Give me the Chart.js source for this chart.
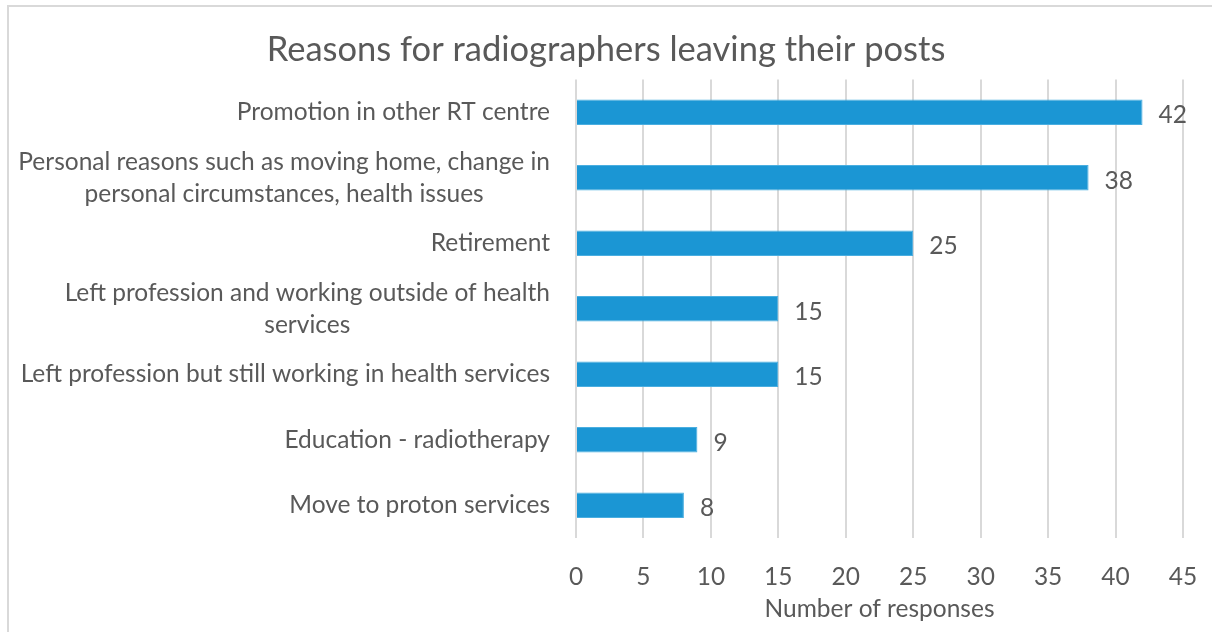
<!DOCTYPE html>
<html>
<head>
<meta charset="utf-8">
<script src="https://cdn.jsdelivr.net/npm/chart.js@4/dist/chart.umd.min.js"></script>
<style>
  html, body { margin: 0; padding: 0; background: #ffffff; }
  #wrap { width: 1212px; height: 632px; position: relative; }
</style>
</head>
<body>
<div id="wrap"><canvas id="c" width="1212" height="632"></canvas></div>
<script>
const categories = [
  "Promotion in other RT centre",
  ["Personal reasons such as moving home, change in", "personal circumstances, health issues"],
  "Retirement",
  ["Left profession and working outside of health", "services"],
  "Left profession but still working in health services",
  "Education - radiotherapy",
  "Move to proton services"
];
const responses = [42, 38, 25, 15, 15, 9, 8];
const xTicks = [0, 5, 10, 15, 20, 25, 30, 35, 40, 45];

const TEXT = '#595959';
const FONT = 'Lato';
const LABEL_SIZE = 24.5;

const framePlugin = {
  id: 'frame',
  beforeDraw(chart) {
    const ctx = chart.ctx;
    ctx.save();
    ctx.fillStyle = '#ffffff';
    ctx.fillRect(0, 0, chart.width, chart.height);
    ctx.strokeStyle = '#d9d9d9';
    ctx.lineWidth = 2;
    ctx.beginPath();
    ctx.moveTo(8, chart.height);
    ctx.lineTo(8, 6);
    ctx.lineTo(chart.width, 6);
    ctx.stroke();
    ctx.restore();
  }
};

const catLabelPlugin = {
  id: 'catLabels',
  afterDraw(chart) {
    const ctx = chart.ctx;
    const y = chart.scales.y;
    ctx.save();
    ctx.font = LABEL_SIZE + 'px ' + FONT;
    ctx.fillStyle = TEXT;
    ctx.textAlign = 'center';
    ctx.textBaseline = 'middle';
    const right = chart.chartArea.left - 26;
    const lineH = 32;
    chart.data.labels.forEach((lab, i) => {
      const lines = Array.isArray(lab) ? lab : [lab];
      const maxW = Math.max(...lines.map(l => ctx.measureText(l).width));
      const cx = right - maxW / 2;
      const cy = y.getPixelForValue(i);
      lines.forEach((l, j) => {
        ctx.fillText(l, cx, cy + (j - (lines.length - 1) / 2) * lineH);
      });
    });
    ctx.restore();
  }
};

const valueLabelPlugin = {
  id: 'valueLabels',
  afterDatasetsDraw(chart) {
    const ctx = chart.ctx;
    const meta = chart.getDatasetMeta(0);
    ctx.save();
    ctx.font = LABEL_SIZE + 'px ' + FONT;
    ctx.fillStyle = TEXT;
    ctx.textAlign = 'left';
    ctx.textBaseline = 'middle';
    meta.data.forEach((el, i) => {
      ctx.fillText(String(chart.data.datasets[0].data[i]), el.x + 16, el.y + 3);
    });
    ctx.restore();
  }
};

new Chart(document.getElementById('c'), {
  type: 'bar',
  data: {
    labels: categories,
    datasets: [{
      data: responses,
      backgroundColor: '#1b96d4',
      borderColor: '#4aaee0',
      borderWidth: 1,
      borderSkipped: 'start',
      barPercentage: 0.39,
      categoryPercentage: 1.0
    }]
  },
  options: {
    indexAxis: 'y',
    responsive: false,
    animation: false,
    devicePixelRatio: 1,
    layout: { padding: { left: 0, right: 0, top: 0, bottom: 0 } },
    plugins: {
      legend: { display: false },
      tooltip: { enabled: false },
      title: {
        display: true,
        text: 'Reasons for radiographers leaving their posts',
        color: TEXT,
        font: { family: FONT, size: 34.5, weight: 'normal' },
        padding: { top: 29, bottom: 9 }
      }
    },
    scales: {
      x: {
        min: 0,
        max: 45,
        afterBuildTicks(scale) { scale.ticks = xTicks.map(v => ({ value: v })); },
        afterFit(scale) { scale.height = 94; scale.paddingRight = 29; },
        grid: { color: '#d9d9d9', lineWidth: 2, drawTicks: false },
        border: { display: false },
        ticks: { color: TEXT, font: { family: FONT, size: LABEL_SIZE }, padding: 24, maxRotation: 0 },
        title: {
          display: true,
          text: 'Number of responses',
          color: TEXT,
          font: { family: FONT, size: LABEL_SIZE },
          padding: { top: 4, bottom: 8 }
        }
      },
      y: {
        grid: { display: false },
        border: { display: false },
        ticks: { display: false },
        afterFit(scale) { scale.width = 576; }
      }
    }
  },
  plugins: [framePlugin, catLabelPlugin, valueLabelPlugin]
});
</script>
</body>
</html>
